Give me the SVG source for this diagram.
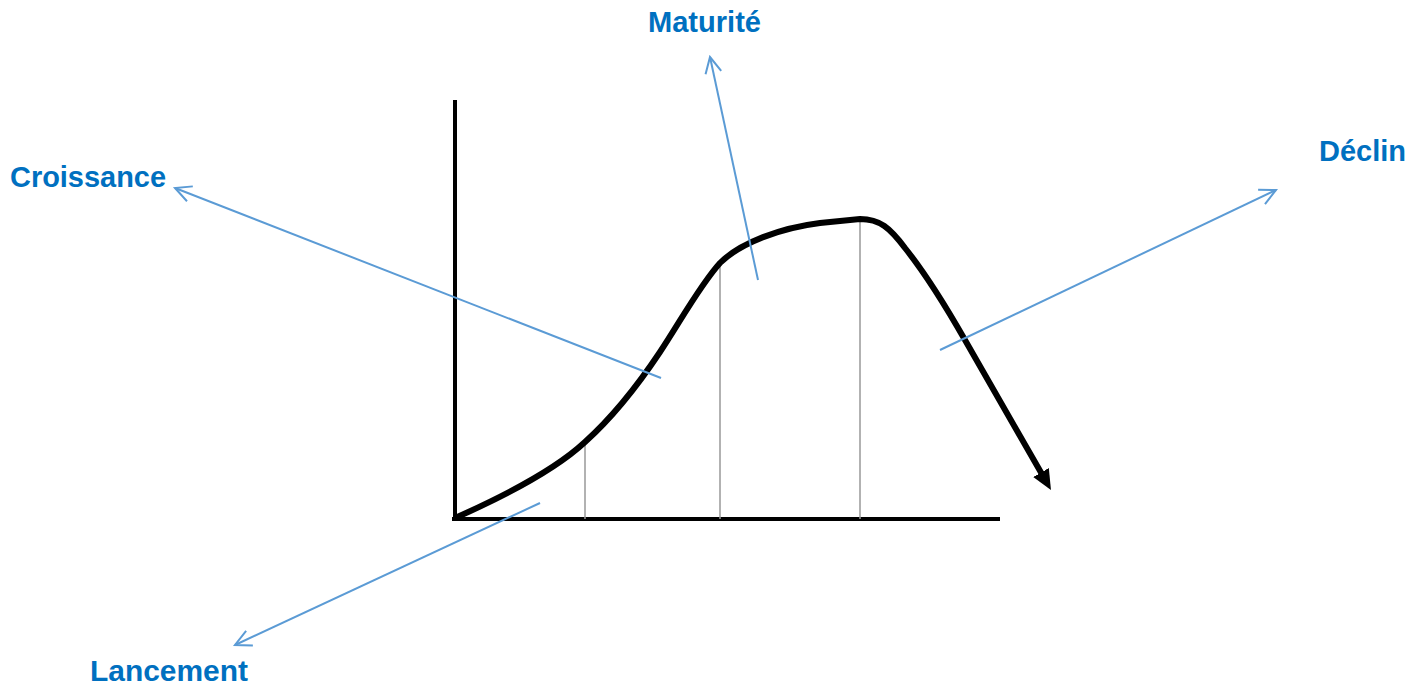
<svg xmlns="http://www.w3.org/2000/svg" width="1427" height="688" viewBox="0 0 1427 688">
<style>
.lbl{font-family:"Century Gothic","Liberation Sans",Arial,sans-serif;font-weight:bold;font-size:29px;fill:#0070C0}
.axis{stroke:#000;stroke-width:4;fill:none}
.guide{stroke:#999;stroke-width:1.5;fill:none}
.blue{stroke:#5B9BD5;stroke-width:2;fill:none;marker-end:url(#open)}
</style>
<defs>
<marker id="open" viewBox="0 0 20 20" refX="18" refY="10" markerWidth="20" markerHeight="20" markerUnits="userSpaceOnUse" orient="auto">
<path d="M2,2 L18,10 L2,18" fill="none" stroke="#5B9BD5" stroke-width="2"/>
</marker>
<marker id="solid" viewBox="0 0 20 20" refX="4" refY="10" markerWidth="20" markerHeight="20" markerUnits="userSpaceOnUse" orient="auto">
<path d="M0,1 L20,10 L0,19 Z" fill="#000"/>
</marker>
</defs>
<g id="chart">
<line class="axis" x1="455" y1="100" x2="455" y2="521"/>
<line class="axis" x1="452" y1="519" x2="1000" y2="519"/>
<line class="guide" x1="585" y1="440" x2="585" y2="519"/>
<line class="guide" x1="720" y1="262" x2="720" y2="519"/>
<line class="guide" x1="860" y1="218" x2="860" y2="519"/>
<path d="M455,518 C500,498 555,470 585,442 C615,415 640,382 660,352 C680,322 700,285 720,263 C740,243 780,228 820,223 L860,219 C880,219 890,228 905,248 C925,273 945,305 965,340 L1043,476" stroke="#000" stroke-width="6" fill="none" marker-end="url(#solid)"/>
</g>
<g id="connectors">
<line class="blue" x1="540" y1="503" x2="235" y2="645"/>
<line class="blue" x1="661" y1="378" x2="175" y2="188"/>
<line class="blue" x1="758" y1="280" x2="710" y2="57"/>
<line class="blue" x1="940" y1="350" x2="1276" y2="190"/>
</g>
<g id="lancement"><text class="lbl" x="90" y="681" textLength="158" lengthAdjust="spacingAndGlyphs">Lancement</text></g>
<g id="croissance"><text class="lbl" x="10" y="187" textLength="156" lengthAdjust="spacingAndGlyphs">Croissance</text></g>
<g id="maturite"><text class="lbl" x="648" y="32" textLength="113" lengthAdjust="spacingAndGlyphs">Maturité</text></g>
<g id="declin"><text class="lbl" x="1319" y="161" textLength="87" lengthAdjust="spacingAndGlyphs">Déclin</text></g>
</svg>
